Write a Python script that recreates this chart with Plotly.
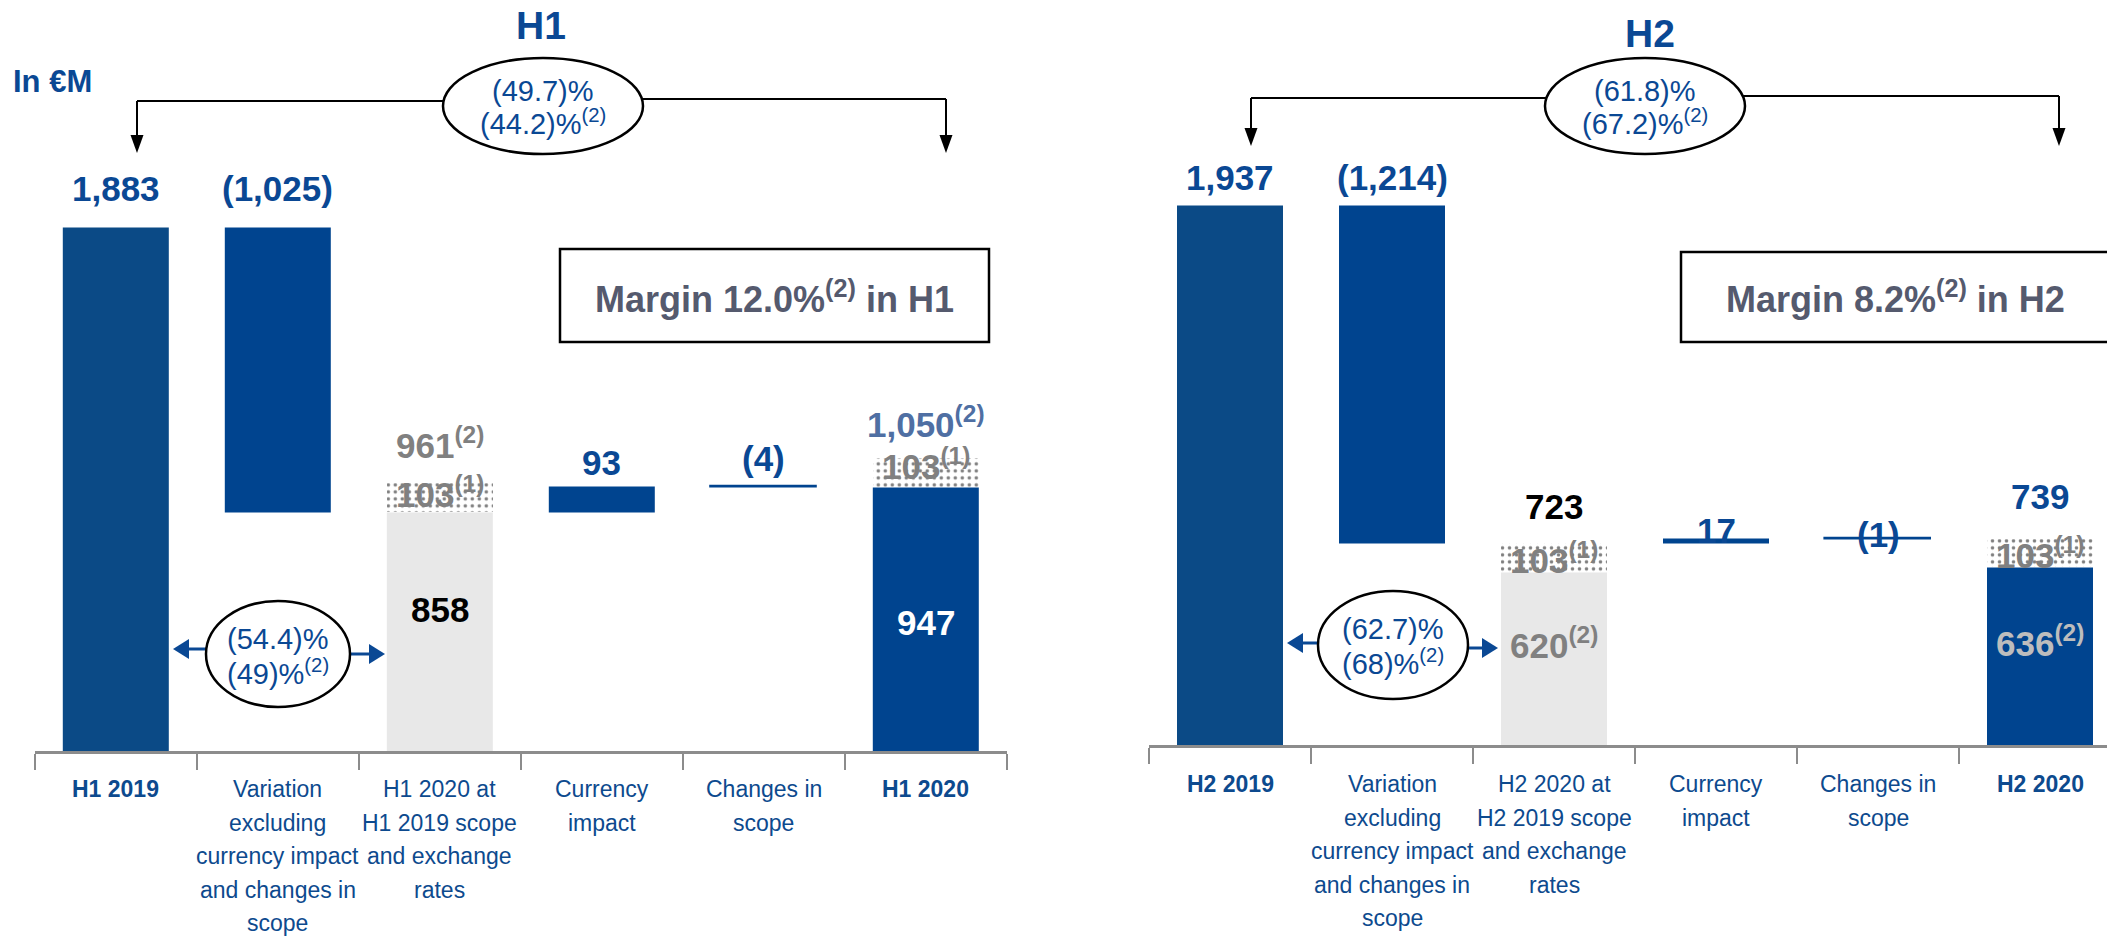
import plotly.graph_objects as go

# ---------------------------------------------------------------------------
# Recurring operating income bridge, H1 and H2 (EUR millions)
# ---------------------------------------------------------------------------
steps = ["prior", "variation", "like_for_like", "currency", "scope", "current"]

tick_labels_h1 = [
    "<b>H1 2019</b>",
    "Variation<br>excluding<br>currency impact<br>and changes in<br>scope",
    "H1 2020 at<br>H1 2019 scope<br>and exchange<br>rates",
    "Currency<br>impact",
    "Changes in<br>scope",
    "<b>H1 2020</b>",
]
tick_labels_h2 = [
    "<b>H2 2019</b>",
    "Variation<br>excluding<br>currency impact<br>and changes in<br>scope",
    "H2 2020 at<br>H2 2019 scope<br>and exchange<br>rates",
    "Currency<br>impact",
    "Changes in<br>scope",
    "<b>H2 2020</b>",
]

# H1 movements
h1_prior = 1883
h1_variation = -1025
h1_currency = 93
h1_scope = -4
h1_item = 103          # dotted block (1)

# H2 movements
h2_prior = 1937
h2_variation = -1214
h2_currency = 17
h2_scope = -1
h2_item = 103          # dotted block (1)

# growth rates shown in the bubbles
h1_total_change = ["(49.7)%", "(44.2)%<sup>(2)</sup>"]
h1_lfl_change = ["(54.4)%", "(49)%<sup>(2)</sup>"]
h2_total_change = ["(61.8)%", "(67.2)%<sup>(2)</sup>"]
h2_lfl_change = ["(62.7)%", "(68)%<sup>(2)</sup>"]
margin_h1 = "12.0%"
margin_h2 = "8.2%"

# ---------------------------------------------------------------------------
W, H = 2107, 939
FONT = "Liberation Sans, Arial, Helvetica, sans-serif"
DARK = "#0B4A86"
BLUE = "#00448F"
TXT_BLUE = "#0A4894"
CAT_BLUE = "#0D4A8E"
LIGHT = "#E8E8E8"
GRAY_TXT = "#808080"
AXIS_GRAY = "#8C8C8C"
BAR_W = 0.654
VAL_SIZE = 35


def fmt(v):
    return f"({abs(v):,})" if v < 0 else f"{v:,}"


def px(x):
    return x / W


def py(y):
    return 1 - y / H


fig = go.Figure()
annotations = []
shapes = []


def add_bridge(xa, ya, cats, tick_labels, prior, variation, currency, scope,
               item, item_on_top, offs):
    lfl_total = prior + variation
    lfl_solid = lfl_total if item_on_top else lfl_total - item
    curr_base = lfl_total
    after_curr = curr_base + currency
    current_total = after_curr + scope
    current_solid = current_total if item_on_top else current_total - item

    heights = [prior, abs(variation), lfl_solid, abs(currency), abs(scope), current_solid]
    bases = [0, lfl_total, 0, min(curr_base, after_curr),
             min(after_curr, current_total), 0]
    colors = [DARK, BLUE, LIGHT, BLUE, BLUE, BLUE]
    line_w = [0, 0, 0, 0, 1.6, 0]

    fig.add_trace(go.Bar(
        x=cats, y=heights, base=bases, width=BAR_W,
        marker=dict(color=colors, line=dict(color=colors, width=line_w)),
        xaxis=xa, yaxis=ya, showlegend=False, hoverinfo="skip",
    ))
    fig.add_trace(go.Bar(
        x=[cats[2], cats[5]], y=[item, item], base=[lfl_solid, current_solid],
        width=BAR_W,
        marker=dict(color="white", line=dict(width=0),
                    pattern=dict(shape=".", fgcolor="black", bgcolor="white",
                                 size=7, solidity=0.2)),
        xaxis=xa, yaxis=ya, showlegend=False, hoverinfo="skip",
    ))

    def lab(i, yval, text, color, yshift=0, size=VAL_SIZE):
        annotations.append(dict(
            x=cats[i], y=yval, xref=xa, yref=ya, text=text, showarrow=False,
            yanchor="middle", yshift=yshift,
            font=dict(family=FONT, size=size, color=color)))

    o = offs
    lab(0, prior, f"<b>{fmt(prior)}</b>", TXT_BLUE, o["top"])
    lab(1, prior, f"<b>{fmt(variation)}</b>", TXT_BLUE, o["top"])
    lab(3, max(curr_base, after_curr), f"<b>{fmt(currency)}</b>", TXT_BLUE, o["cur"])
    lab(4, max(after_curr, current_total), f"<b>{fmt(scope)}</b>", TXT_BLUE, o["scope"])
    lab(2, lfl_solid + item / 2, f"<b>{fmt(item)}<sup>(1)</sup></b>", GRAY_TXT, o["item"])
    lab(5, current_solid + item / 2, f"<b>{fmt(item)}<sup>(1)</sup></b>", GRAY_TXT, o["item6"])
    if item_on_top:
        lab(2, lfl_solid + item, f"<b>{fmt(lfl_solid + item)}<sup>(2)</sup></b>", GRAY_TXT, o["lfl_top"])
        lab(2, lfl_solid / 2, f"<b>{fmt(lfl_solid)}</b>", "black", o["lfl_in"])
        lab(5, current_solid + item, f"<b>{fmt(current_solid + item)}<sup>(2)</sup></b>", "#4F6FA3", o["end_top"])
        lab(5, current_solid / 2, f"<b>{fmt(current_solid)}</b>", "white", o["end_in"])
    else:
        lab(2, lfl_total, f"<b>{fmt(lfl_total)}</b>", "black", o["lfl_top"])
        lab(2, lfl_solid / 2, f"<b>{fmt(lfl_solid)}<sup>(2)</sup></b>", GRAY_TXT, o["lfl_in"])
        lab(5, current_total, f"<b>{fmt(current_total)}</b>", TXT_BLUE, o["end_top"])
        lab(5, current_solid / 2, f"<b>{fmt(current_solid)}<sup>(2)</sup></b>", "#BDBDBD", o["end_in"])

    # category labels under the axis, one line at a time for a fixed pitch
    for i, t in enumerate(tick_labels):
        bold = t.startswith("<b>")
        lines = t.replace("<b>", "").replace("</b>", "").split("<br>")
        for k, ln in enumerate(lines):
            annotations.append(dict(
                x=cats[i], y=0, xref=xa, yref=ya,
                text=f"<b>{ln}</b>" if bold else ln, showarrow=False,
                yanchor="middle", yshift=-(o["cat"] + 33.5 * k),
                font=dict(family=FONT, size=23, color=CAT_BLUE)))


cats_h1 = [f"h1_{s}" for s in steps]
cats_h2 = [f"h2_{s}" for s in steps]

add_bridge("x", "y", cats_h1, tick_labels_h1, h1_prior, h1_variation,
           h1_currency, h1_scope, h1_item, True,
           dict(top=38, cur=24, scope=28, item=6, item6=9,
                lfl_top=41, lfl_in=22, end_top=37, end_in=-3, cat=38))
add_bridge("x2", "y2", cats_h2, tick_labels_h2, h2_prior, h2_variation,
           h2_currency, h2_scope, h2_item, False,
           dict(top=27, cur=8, scope=4, item=0, item6=0,
                lfl_top=37, lfl_in=16, end_top=42, end_in=15, cat=39))


# ---- decorations: headings, bubbles, connectors ----
def text(x, y, t, size, color, xanchor="center"):
    annotations.append(dict(x=px(x), y=py(y), xref="paper", yref="paper", text=t,
                            showarrow=False, xanchor=xanchor, yanchor="middle",
                            font=dict(family=FONT, size=size, color=color)))


def line(x0, y0, x1, y1, color="black", width=2):
    shapes.append(dict(type="line", xref="paper", yref="paper",
                       x0=px(x0), y0=py(y0), x1=px(x1), y1=py(y1),
                       line=dict(color=color, width=width)))


def tri(points, color):
    path = "M " + " L ".join(f"{px(a):.5f},{py(b):.5f}" for a, b in points) + " Z"
    shapes.append(dict(type="path", xref="paper", yref="paper", path=path,
                       fillcolor=color, line=dict(color=color, width=0)))


def ellipse(cx, cy, rx, ry, width=2.5):
    shapes.append(dict(type="circle", xref="paper", yref="paper",
                       x0=px(cx - rx), x1=px(cx + rx), y0=py(cy + ry), y1=py(cy - ry),
                       fillcolor="white", line=dict(color="black", width=width)))


def down_arrow(x, y_top, y_tip):
    line(x, y_top, x, y_tip - 16)
    tri([(x - 6.5, y_tip - 18), (x + 6.5, y_tip - 18), (x, y_tip)], "black")


def side_arrows(cx, rx, ly, lx_tip, ry_, rx_tip, color=TXT_BLUE):
    line(cx - rx, ly, lx_tip + 14, ly, color, 3)
    tri([(lx_tip + 16, ly - 10), (lx_tip + 16, ly + 10), (lx_tip, ly)], color)
    line(cx + rx, ry_, rx_tip - 14, ry_, color, 3)
    tri([(rx_tip - 16, ry_ - 10), (rx_tip - 16, ry_ + 10), (rx_tip, ry_)], color)


# H1 headline bubble
line(137, 101, 450, 101)
line(636, 99, 946, 99)
down_arrow(137, 101, 153)
down_arrow(946, 99, 153)
ellipse(543, 106, 100, 48)
text(543, 91, h1_total_change[0], 29, TXT_BLUE)
text(543, 122, h1_total_change[1], 29, TXT_BLUE)

# H2 headline bubble
line(1251, 98, 1552, 98)
line(1738, 96, 2059, 96)
down_arrow(1251, 98, 146)
down_arrow(2059, 96, 146)
ellipse(1645, 106, 100, 48)
text(1645, 91, h2_total_change[0], 29, TXT_BLUE)
text(1645, 122, h2_total_change[1], 29, TXT_BLUE)

# like-for-like bubbles
side_arrows(278, 72, 649, 173, 654, 385)
ellipse(278, 654, 72, 53)
text(278, 639, h1_lfl_change[0], 29, TXT_BLUE)
text(278, 672, h1_lfl_change[1], 29, TXT_BLUE)

side_arrows(1393, 75, 643, 1287, 648, 1498)
ellipse(1393, 645, 75, 54)
text(1393, 629, h2_lfl_change[0], 29, TXT_BLUE)
text(1393, 662, h2_lfl_change[1], 29, TXT_BLUE)

# headings
text(541, 25, "<b>H1</b>", 39, TXT_BLUE)
text(1650, 33, "<b>H2</b>", 39, TXT_BLUE)
text(11, 81, "<b>In €M</b>", 31, TXT_BLUE, xanchor="left")

# margin boxes
shapes.append(dict(type="rect", xref="paper", yref="paper",
                   x0=px(560), x1=px(989), y0=py(342), y1=py(249),
                   line=dict(color="black", width=2.5), fillcolor="white", layer="below"))
text(774, 297, f"<b>Margin {margin_h1}<sup>(2)</sup> in H1</b>", 36, "#555A6E")
shapes.append(dict(type="rect", xref="paper", yref="paper",
                   x0=px(1681), x1=px(2130), y0=py(342), y1=py(252),
                   line=dict(color="black", width=2.5), fillcolor="white", layer="below"))
text(1895, 297, f"<b>Margin {margin_h2}<sup>(2)</sup> in H2</b>", 36, "#555A6E")

# ---- axes ----
scale_top = 2000
axis_common = dict(type="category", tickson="boundaries", ticks="outside",
                   ticklen=16, tickwidth=2, tickcolor=AXIS_GRAY,
                   showline=True, linecolor=AXIS_GRAY, linewidth=3,
                   showticklabels=False, showgrid=False, zeroline=False,
                   fixedrange=True)
fig.update_layout(
    width=W, height=H,
    margin=dict(l=0, r=0, t=0, b=0),
    paper_bgcolor="white", plot_bgcolor="white",
    barmode="overlay", bargap=0,
    xaxis=dict(domain=[px(34.8), px(1006.5)], range=[-0.5, 5.5], anchor="y",
               categoryorder="array", categoryarray=cats_h1, **axis_common),
    yaxis=dict(domain=[py(751), py(751 - scale_top * 0.2783)], range=[0, scale_top],
               visible=False, fixedrange=True, anchor="x"),
    xaxis2=dict(domain=[px(1149), 1.0], range=[-0.5, -0.5 + (W - 1149) / 162.0],
                anchor="y2", categoryorder="array", categoryarray=cats_h2, **axis_common),
    yaxis2=dict(domain=[py(745), py(745 - scale_top * 0.2788)], range=[0, scale_top],
                visible=False, fixedrange=True, anchor="x2"),
    annotations=annotations,
    shapes=shapes,
    showlegend=False,
)

fig.write_html("out.html")
